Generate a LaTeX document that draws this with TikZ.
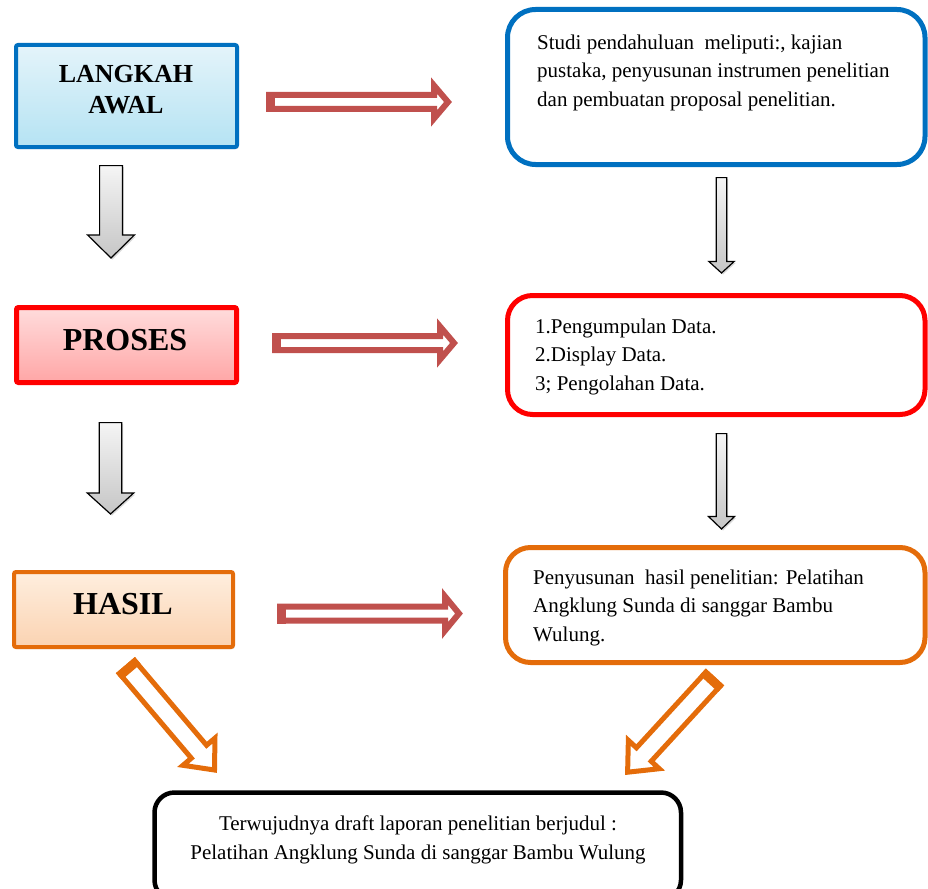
\documentclass[tikz,border=0pt]{standalone}
\usepackage{fontspec}
\setmainfont{Liberation Serif}
\usetikzlibrary{calc,shadows}
\definecolor{cblue}{HTML}{0070C0}
\definecolor{bluetop}{HTML}{E4F4FA}
\definecolor{bluebot}{HTML}{B5E3F3}
\definecolor{cred}{HTML}{FF0000}
\definecolor{redtop}{HTML}{FFDCDC}
\definecolor{redbot}{HTML}{FFA6A6}
\definecolor{corange}{HTML}{E46C0A}
\definecolor{orangetop}{HTML}{FEEEDE}
\definecolor{orangebot}{HTML}{FBD3B2}
\definecolor{arrred}{HTML}{C0504D}

% arrow outline: #1 style, #2 tail, #3 tip, #4 half shaft, #5 half head, #6 head length
\newcommand{\arrowshape}[6][]{%
  \coordinate (ba-h) at ($(#3)!#6!(#2)$);
  \path[#1] ($(#2)!#4!90:(#3)$) -- ($(ba-h)!#4!90:(#3)$) -- ($(ba-h)!#5!90:(#3)$) -- (#3)
    -- ($(ba-h)!#5!-90:(#3)$) -- ($(ba-h)!#4!-90:(#3)$) -- ($(#2)!#4!-90:(#3)$) -- cycle;}
% thick tail block: #1 style, #2 tail, #3 tip, #4 half shaft, #5 length
\newcommand{\tailblock}[5][]{%
  \coordinate (ba-t) at ($(#2)!#5!(#3)$);
  \path[#1] ($(#2)!#4!90:(#3)$) -- ($(ba-t)!#4!90:(#3)$) -- ($(ba-t)!#4!-90:(#3)$)
    -- ($(#2)!#4!-90:(#3)$) -- cycle;}

\tikzset{
  lbox/.style={rectangle, rounded corners=2pt, inner sep=0pt,
    drop shadow={opacity=0.25, shadow xshift=1.5pt, shadow yshift=-2pt}},
  lbtext/.style={inner sep=0pt, align=center, font=\fontsize{26pt}{31pt}\selectfont\bfseries},
  bigtext/.style={inner sep=0pt, font=\fontsize{32pt}{38pt}\selectfont\bfseries},
  rbox/.style={rectangle, draw, fill=white, line width=5pt, inner sep=0pt},
  rtext/.style={inner sep=0pt, align=left, font=\fontsize{21pt}{28.5pt}\selectfont},
  grayarr/.style={draw=black, line width=1.2pt, line join=miter, top color=gray!8, bottom color=gray!45,
    drop shadow={opacity=0.3, shadow xshift=1.5pt, shadow yshift=-1.5pt}},
  redarr/.style={draw=arrred, line width=6pt, fill=white, line join=miter},
  redtail/.style={draw=arrred, line width=6pt, fill=arrred, line join=miter},
  orarr/.style={draw=corange, line width=5pt, fill=white, line join=miter},
  ortail/.style={draw=corange, line width=5pt, fill=corange, line join=miter},
}

\begin{document}
\begin{tikzpicture}[x=1pt, y=-1pt]
\useasboundingbox (0,0) rectangle (928,888);
\clip (0,0) rectangle (928,888);

% left boxes
\node[lbox, draw=cblue, line width=4pt, top color=bluetop, bottom color=bluebot,
      minimum width=221pt, minimum height=102pt] (la) at (126.5,96) {};
\node[lbtext, anchor=north] (la-t) at (126,65.4) {LANGKAH\\AWAL};

\node[lbox, draw=cred, line width=5pt, top color=redtop, bottom color=redbot,
      minimum width=220pt, minimum height=75pt] (pr) at (126.5,345) {};
\node[bigtext, anchor=base] (pr-t) at (125,350) {PROSES};

\node[lbox, draw=corange, line width=4pt, top color=orangetop, bottom color=orangebot,
      minimum width=219pt, minimum height=75pt] (ha) at (123.5,609.5) {};
\node[bigtext, anchor=base] (ha-t) at (123,614) {HASIL};

% right boxes
\node[rbox, draw=cblue, rounded corners=28pt, minimum width=417.5pt, minimum height=155pt] (ba) at (716.25,87) {};
\node[rtext, anchor=north west] (ba-t) at (537,34.7) {Studi pendahuluan~ meliputi:, kajian\\pustaka, penyusunan instrumen penelitian\\dan pembuatan proposal penelitian.};

\node[rbox, draw=cred, rounded corners=25pt, minimum width=417.5pt, minimum height=119pt] (bb) at (716.25,355) {};
\node[rtext, anchor=north west] (bb-t) at (535,318.7) {1.Pengumpulan Data.\\2.Display Data.\\3; Pengolahan Data.};

\node[rbox, draw=corange, rounded corners=25pt, minimum width=419.5pt, minimum height=115pt] (bc) at (715.25,605) {};
\node[rtext, anchor=north west] (bc-t) at (533,569.7) {Penyusunan~ hasil penelitian: Pelatihan\\Angklung Sunda di sanggar Bambu\\Wulung.};

\node[rbox, draw=black, line width=4.5pt, rounded corners=20pt, minimum width=526.5pt, minimum height=107.5pt] (bd) at (417.75,846.25) {};
\node[rtext, align=center, anchor=north] (bd-t) at (418,815.7) {Terwujudnya draft laporan penelitian berjudul :\\Pelatihan Angklung Sunda di sanggar Bambu Wulung};

% arrow end points
\coordinate (g1a) at (111,165.6);   \coordinate (g1b) at (111,258);
\coordinate (g2a) at (110.5,422.6); \coordinate (g2b) at (110.5,514);
\coordinate (g3a) at (721.5,177.6); \coordinate (g3b) at (721.5,273);
\coordinate (g4a) at (721.5,433.6); \coordinate (g4b) at (721.5,529);
\coordinate (r1a) at (269,102);     \coordinate (r1b) at (448,102);
\coordinate (r2a) at (275,343);     \coordinate (r2b) at (454,343);
\coordinate (r3a) at (280,613.5);   \coordinate (r3b) at (459,613.5);
\coordinate (o1a) at (127,667);     \coordinate (o1b) at (214.5,770);
\coordinate (o2a) at (713.3,678.8); \coordinate (o2b) at (627.6,772.2);

% gray down arrows
\arrowshape[grayarr]{g1a}{g1b}{11.4pt}{23.4pt}{23pt}
\arrowshape[grayarr]{g2a}{g2b}{11.2pt}{23.2pt}{21pt}
\arrowshape[grayarr]{g3a}{g3b}{5.2pt}{12.6pt}{11.5pt}
\arrowshape[grayarr]{g4a}{g4b}{5.2pt}{13pt}{12.5pt}

% red right arrows
\arrowshape[redarr]{r1a}{r1b}{7pt}{16.5pt}{14pt}
\tailblock[redtail]{r1a}{r1b}{7pt}{3pt}
\arrowshape[redarr]{r2a}{r2b}{7pt}{16.5pt}{14pt}
\tailblock[redtail]{r2a}{r2b}{7pt}{3pt}
\arrowshape[redarr]{r3a}{r3b}{7pt}{17pt}{14pt}
\tailblock[redtail]{r3a}{r3b}{7pt}{3pt}

% orange diagonal arrows
\arrowshape[orarr]{o1a}{o1b}{10pt}{21pt}{24pt}
\tailblock[ortail]{o1a}{o1b}{10pt}{4pt}
\arrowshape[orarr]{o2a}{o2b}{10pt}{21pt}{24pt}
\tailblock[ortail]{o2a}{o2b}{10pt}{4pt}
\end{tikzpicture}
\end{document}
